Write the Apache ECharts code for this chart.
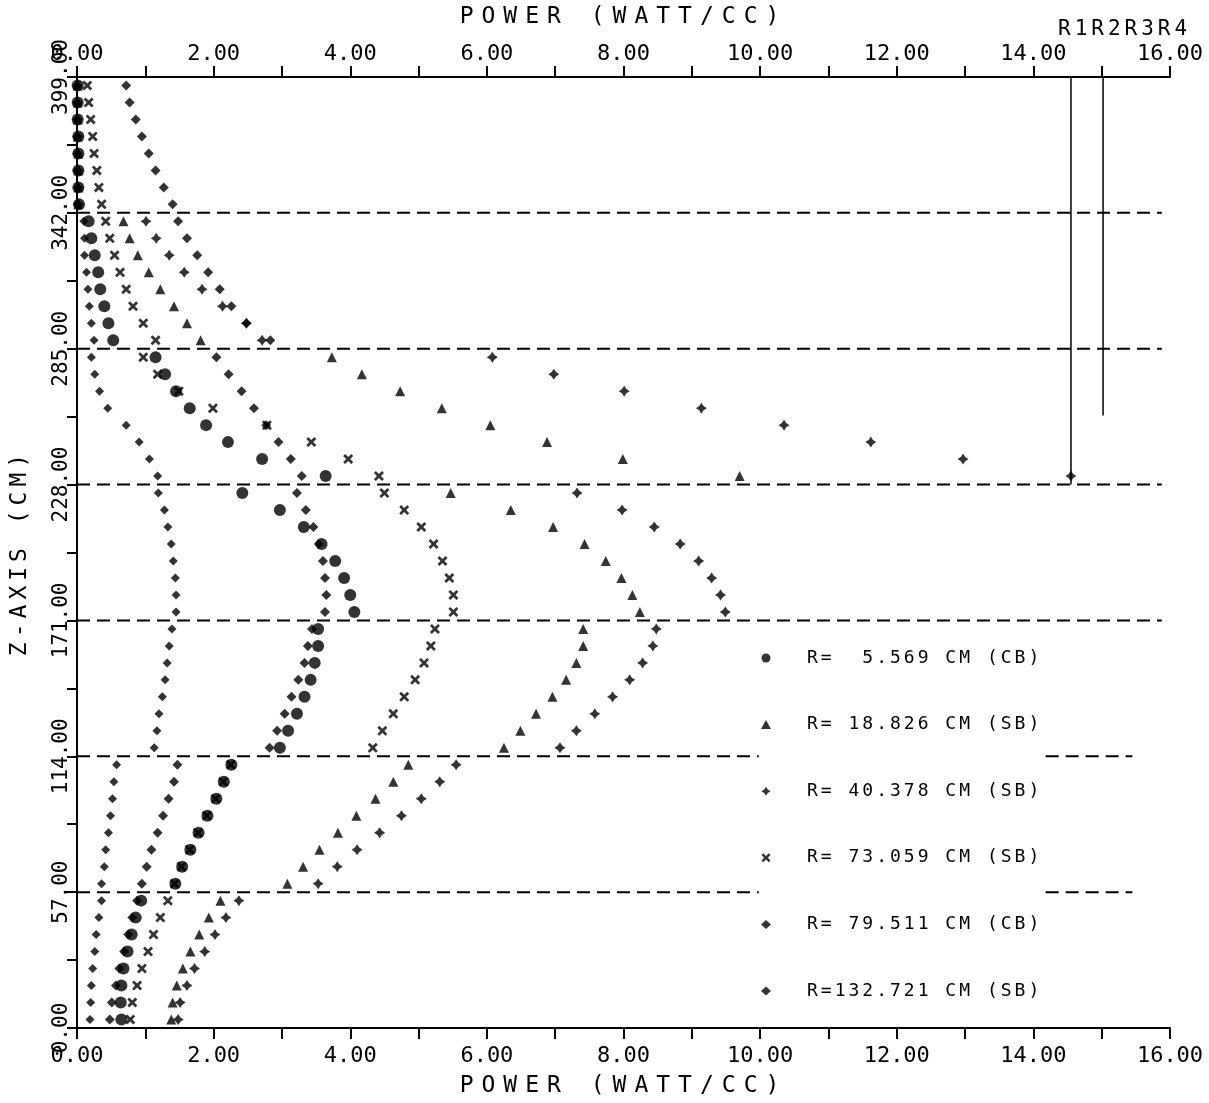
<!DOCTYPE html>
<html>
<head>
<meta charset="utf-8">
<title>Axial power distribution</title>
<script src="https://cdn.jsdelivr.net/npm/echarts@6/dist/echarts.min.js"></script>
<style>
  html, body { margin: 0; padding: 0; background: #ffffff; }
  #chart { width: 1209px; height: 1103px; }
</style>
</head>
<body>
<div id="chart"></div>
<script>
// Axial mesh centres (cm), eight per 57 cm zone, bottom to top
const zPositions = [
  3.56, 10.69, 17.81, 24.94, 32.06, 39.19, 46.31, 53.44,
  60.56, 67.69, 74.81, 81.94, 89.06, 96.19, 103.31, 110.44,
  117.56, 124.69, 131.81, 138.94, 146.06, 153.19, 160.31, 167.44,
  174.56, 181.69, 188.81, 195.94, 203.06, 210.19, 217.31, 224.44,
  231.56, 238.69, 245.81, 252.94, 260.06, 267.19, 274.31, 281.44,
  288.56, 295.69, 302.81, 309.94, 317.06, 324.19, 331.31, 338.44,
  345.56, 352.69, 359.81, 366.94, 374.06, 381.19, 388.31, 395.44
];

// Power density (W/cc) at each axial position, one array per radius
const powerR5569 = [
  0.65, 0.64, 0.65, 0.68, 0.74, 0.80, 0.86, 0.94,
  1.44, 1.54, 1.66, 1.78, 1.91, 2.04, 2.15, 2.26,
  2.97, 3.09, 3.22, 3.33, 3.42, 3.48, 3.53, 3.53,
  4.06, 4.00, 3.91, 3.78, 3.58, 3.32, 2.97, 2.42,
  3.64, 2.71, 2.21, 1.89, 1.65, 1.45, 1.29, 1.15,
  0.53, 0.46, 0.40, 0.34, 0.31, 0.26, 0.21, 0.17,
  0.03, 0.02, 0.02, 0.02, 0.02, 0.01, 0.01, 0.01
];
const powerR18826 = [
  1.38, 1.40, 1.46, 1.55, 1.66, 1.79, 1.93, 2.10,
  3.08, 3.31, 3.55, 3.82, 4.09, 4.37, 4.63, 4.85,
  6.25, 6.49, 6.72, 6.96, 7.16, 7.31, 7.41, 7.41,
  8.24, 8.13, 7.97, 7.74, 7.43, 6.97, 6.35, 5.47,
  9.70, 7.99, 6.88, 6.05, 5.34, 4.73, 4.17, 3.73,
  1.81, 1.61, 1.42, 1.22, 1.05, 0.89, 0.77, 0.68,
  0.02, 0.02, 0.02, 0.02, 0.01, 0.01, 0.01, 0.01
];
const powerR40378 = [
  1.48, 1.51, 1.61, 1.72, 1.87, 2.02, 2.18, 2.37,
  3.53, 3.81, 4.10, 4.43, 4.75, 5.04, 5.31, 5.55,
  7.07, 7.31, 7.58, 7.84, 8.09, 8.28, 8.43, 8.48,
  9.49, 9.42, 9.29, 9.10, 8.83, 8.45, 7.98, 7.32,
  14.55, 12.97, 11.62, 10.35, 9.14, 8.01, 6.98, 6.08,
  2.71, 2.48, 2.13, 1.83, 1.57, 1.35, 1.16, 1.01,
  0.02, 0.02, 0.02, 0.01, 0.01, 0.01, 0.01, 0.01
];
const powerR73059 = [
  0.78, 0.81, 0.88, 0.95, 1.04, 1.12, 1.22, 1.33,
  1.43, 1.53, 1.65, 1.77, 1.90, 2.03, 2.14, 2.25,
  4.33, 4.47, 4.63, 4.79, 4.95, 5.08, 5.18, 5.24,
  5.51, 5.51, 5.45, 5.35, 5.22, 5.04, 4.79, 4.50,
  4.42, 3.97, 3.43, 2.78, 1.99, 1.49, 1.18, 0.97,
  1.15, 0.97, 0.82, 0.72, 0.63, 0.55, 0.48, 0.42,
  0.36, 0.32, 0.29, 0.25, 0.23, 0.20, 0.17, 0.15
];
const powerR79511 = [
  0.48, 0.51, 0.57, 0.62, 0.69, 0.75, 0.81, 0.88,
  0.95, 1.02, 1.09, 1.18, 1.26, 1.34, 1.42, 1.47,
  2.82, 2.93, 3.04, 3.14, 3.24, 3.33, 3.38, 3.44,
  3.63, 3.65, 3.63, 3.60, 3.54, 3.46, 3.35, 3.22,
  3.29, 3.13, 2.95, 2.77, 2.59, 2.41, 2.22, 2.04,
  2.83, 2.48, 2.26, 2.09, 1.92, 1.76, 1.61, 1.48,
  1.40, 1.27, 1.15, 1.05, 0.95, 0.86, 0.77, 0.72
];
const powerR132721 = [
  0.19, 0.20, 0.21, 0.23, 0.26, 0.28, 0.32, 0.36,
  0.36, 0.40, 0.42, 0.46, 0.49, 0.52, 0.54, 0.58,
  1.13, 1.17, 1.20, 1.25, 1.29, 1.32, 1.35, 1.39,
  1.45, 1.45, 1.44, 1.41, 1.38, 1.33, 1.28, 1.19,
  1.18, 1.06, 0.91, 0.72, 0.45, 0.33, 0.26, 0.21,
  0.25, 0.21, 0.18, 0.16, 0.14, 0.11, 0.11, 0.10,
  0.01, 0.01, 0.00, 0.00, 0.00, 0.00, 0.00, 0.00
];

const seriesNames = [
  'R=  5.569 CM (CB)',
  'R= 18.826 CM (SB)',
  'R= 40.378 CM (SB)',
  'R= 73.059 CM (SB)',
  'R= 79.511 CM (CB)',
  'R=132.721 CM (SB)'
];

// Zone boundaries (cm) drawn as dashed lines
const zoneBoundaries = [57, 114, 171, 228, 285, 342];
// Region marker lines R1..R4: power position and lower end (cm)
const ringLineX = [14.55, 15.02];
const ringLineZLow = [228, 257];

const xAxisTitle = 'POWER (WATT/CC)';
const yAxisTitle = 'Z-AXIS (CM)';
const ringCaption = 'R1R2R3R4';

// ---- presentation ----
const FONT = '"DejaVu Sans Mono", "Liberation Mono", monospace';
const INK = '#000000';

// plotter-style wide lettering
const trackingFor = (t) => {
  if (t === xAxisTitle) return '8px';
  if (t === yAxisTitle) return '5px';
  if (t === ringCaption) return '4px';
  if (t.indexOf('R=') === 0) return '3px';
  return '0px';
};
(function () {
  const proto = CanvasRenderingContext2D.prototype;
  const baseFill = proto.fillText;
  proto.fillText = function (t, x, y, w) {
    if ('letterSpacing' in this) {
      const prev = this.letterSpacing;
      this.letterSpacing = trackingFor(String(t));
      const r = (w === undefined) ? baseFill.call(this, t, x, y) : baseFill.call(this, t, x, y, w);
      this.letterSpacing = prev;
      return r;
    }
    return baseFill.apply(this, arguments);
  };
})();

const SYM_X = 'path://M-1,-0.62L-0.62,-1L0,-0.4L0.62,-1L1,-0.62L0.4,0L1,0.62L0.62,1L0,0.4L-0.62,1L-1,0.62L-0.4,0Z';
const SYM_STAR = 'path://M0,-1L0.4,-0.4L1,0L0.4,0.4L0,1L-0.4,0.4L-1,0L-0.4,-0.4Z';

const profiles = [powerR5569, powerR18826, powerR40378, powerR73059, powerR79511, powerR132721];
const symbols = ['circle', 'triangle', SYM_STAR, SYM_X, 'diamond', 'diamond'];
const symbolSizes = [12, 10, 11, 10, 10, 9];
const layers = [6, 4, 4, 4, 4, 4];

const scatterSeries = profiles.map((vals, i) => ({
  type: 'scatter',
  name: seriesNames[i],
  symbol: symbols[i],
  symbolSize: symbolSizes[i],
  itemStyle: { color: INK },
  z: layers[i],
  silent: true,
  data: vals.map((v, k) => [v, zPositions[k]])
}));

// dashed zone boundaries; the two lowest ones leave room for the legend
const LEGEND_GAP_FROM = 9.98, LEGEND_GAP_TO = 14.18, SHORT_END = 15.45, LONG_END = 15.88;
const boundaryData = [];
zoneBoundaries.forEach((z) => {
  if (z <= 114) {
    boundaryData.push([0, z], [LEGEND_GAP_FROM, z], null, [LEGEND_GAP_TO, z], [SHORT_END, z], null);
  } else {
    boundaryData.push([0, z], [LONG_END, z], null);
  }
});

const ringData = [];
ringLineX.forEach((x, i) => { ringData.push([x, 399], [x, ringLineZLow[i]], null); });

const axisCommon = {
  type: 'value',
  min: 0,
  max: 16,
  interval: 2,
  name: xAxisTitle,
  nameLocation: 'middle',
  nameTextStyle: { fontFamily: FONT, fontSize: 23, color: INK },
  axisLine: { show: true, onZero: false, lineStyle: { color: INK, width: 2 } },
  axisTick: { show: true, inside: false, length: 11, lineStyle: { color: INK, width: 2 } },
  minorTick: { show: true, splitNumber: 2, length: 11, lineStyle: { color: INK, width: 2 } },
  axisLabel: { fontFamily: FONT, fontSize: 22, color: INK, formatter: (v) => v.toFixed(2) },
  splitLine: { show: false },
  minorSplitLine: { show: false }
};

const option = {
  backgroundColor: '#ffffff',
  animation: false,
  grid: { left: 77, right: 39, top: 77, bottom: 73, containLabel: false },
  xAxis: [
    Object.assign({}, axisCommon, { position: 'bottom', nameGap: 47,
      axisLabel: Object.assign({}, axisCommon.axisLabel, { margin: 17 }) }),
    Object.assign({}, axisCommon, { position: 'top', nameGap: 48,
      axisLabel: Object.assign({}, axisCommon.axisLabel, { margin: 12 }) })
  ],
  yAxis: {
    type: 'value',
    min: 0,
    max: 399,
    interval: 57,
    name: yAxisTitle,
    nameLocation: 'middle',
    nameGap: 45,
    nameRotate: 90,
    nameTextStyle: { fontFamily: FONT, fontSize: 23, color: INK },
    axisLine: { show: true, onZero: false, lineStyle: { color: INK, width: 2 } },
    axisTick: { show: true, inside: false, length: 10, lineStyle: { color: INK, width: 2 } },
    minorTick: { show: true, splitNumber: 2, length: 10, lineStyle: { color: INK, width: 2 } },
    axisLabel: { rotate: 90, margin: 5, fontFamily: FONT, fontSize: 21, color: INK,
      formatter: (v) => v.toFixed(2) },
    splitLine: { show: false }
  },
  legend: {
    data: seriesNames,
    orient: 'vertical',
    left: 756,
    top: 642,
    itemWidth: 10,
    itemHeight: 9,
    itemGap: 44.6,
    selectedMode: false,
    textStyle: { fontFamily: FONT, fontSize: 18, color: INK, lineHeight: 22, padding: [0, 0, 0, 31] }
  },
  graphic: [
    { type: 'text', x: 1058, y: 19, silent: true,
      style: { text: ringCaption, fontFamily: FONT, fontSize: 21, fill: INK } }
  ],
  series: scatterSeries.concat([
    {
      type: 'line', name: 'zone boundaries', silent: true, symbol: 'none', z: 2,
      connectNulls: false,
      lineStyle: { color: INK, width: 2, type: [13, 7] },
      data: boundaryData
    },
    {
      type: 'line', name: 'region markers', silent: true, symbol: 'none', z: 2,
      connectNulls: false,
      lineStyle: { color: INK, width: 1.5 },
      data: ringData
    }
  ])
};

const chart = echarts.init(document.getElementById('chart'), null, { renderer: 'canvas' });
chart.setOption(option);
</script>
</body>
</html>
